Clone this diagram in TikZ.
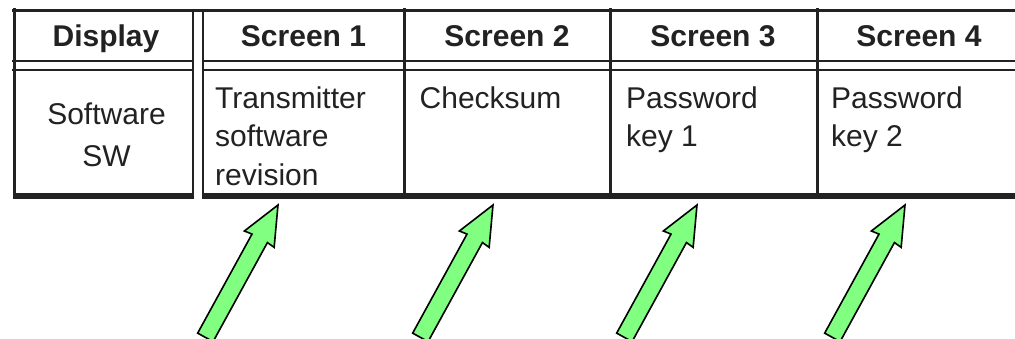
\documentclass[tikz,border=0pt]{standalone}
\usepackage{fontspec}
\setmainfont{Liberation Sans}
\definecolor{arrowgreen}{RGB}{128,255,128}
\definecolor{ink}{RGB}{34,34,34}
\begin{document}
\begin{tikzpicture}[x=1pt,y=-1pt]
\useasboundingbox[fill=white] (0,0) rectangle (1015,339);
\tikzset{
  rule/.style={draw=ink, line cap=rect},
  headtext/.style={font=\fontsize{30}{36}\selectfont\bfseries, text=ink, inner sep=0, anchor=base},
  bodytext/.style={font=\fontsize{30}{38.5}\selectfont, text=ink, inner sep=0, align=left, anchor=north west},
  arrowbody/.style={draw=black, fill=arrowgreen, line width=1.6, line join=miter},
  greenarrow/.pic={\draw[arrowbody] (0,0) -- (-39,17) -- (-38,8.8) -- (-151,8.8) -- (-151,-8.8) -- (-38,-8.8) -- (-39,-17) -- cycle;}
}
% table rules
\draw[rule, line width=3] (13,10.5) -- (1015,10.5);
\draw[rule, line width=3] (14.5,10) -- (14.5,198);
\draw[rule, line width=2] (193,10) -- (193,198);
\draw[rule, line width=2] (203,10) -- (203,198);
\draw[rule, line width=2] (13,61) -- (193,61);
\draw[rule, line width=2] (203,61) -- (1015,61);
\draw[rule, line width=2] (13,70) -- (193,70);
\draw[rule, line width=2] (203,70) -- (1015,70);
\draw[rule, line width=3] (404,10) -- (404,196);
\draw[rule, line width=3] (610,10) -- (610,196);
\draw[rule, line width=3] (817,10) -- (817,196);
\draw[draw=ink, line width=6] (13,196) -- (194,196);
\draw[draw=ink, line width=6] (202,196) -- (1015,196);
% header
\node[headtext] (hdisp) at (106,47) {Display};
\node[headtext] (hs1) at (303.5,47) {Screen 1};
\node[headtext] (hs2) at (507,47) {Screen 2};
\node[headtext] (hs3) at (713,47) {Screen 3};
\node[headtext] (hs4) at (919,47) {Screen 4};
% body
\node[bodytext, align=center, anchor=north] (bdisp) at (106.5,103) {Software\\[3.5pt]SW};
\node[bodytext] (bs1) at (215,86.5) {Transmitter\\software\\revision};
\node[bodytext] (bs2) at (419.5,86.5) {Checksum};
\node[bodytext] (bs3) at (626,86.5) {Password\\key 1};
\node[bodytext] (bs4) at (831,86.5) {Password\\key 2};
% arrows
\coordinate (tip1) at (278,205);
\coordinate (tip2) at (493,205);
\coordinate (tip3) at (697,205);
\coordinate (tip4) at (905,205);
\pic[rotate=61.25] at (tip1) {greenarrow};
\pic[rotate=61.25] at (tip2) {greenarrow};
\pic[rotate=61.25] at (tip3) {greenarrow};
\pic[rotate=61.25] at (tip4) {greenarrow};
\end{tikzpicture}
\end{document}
